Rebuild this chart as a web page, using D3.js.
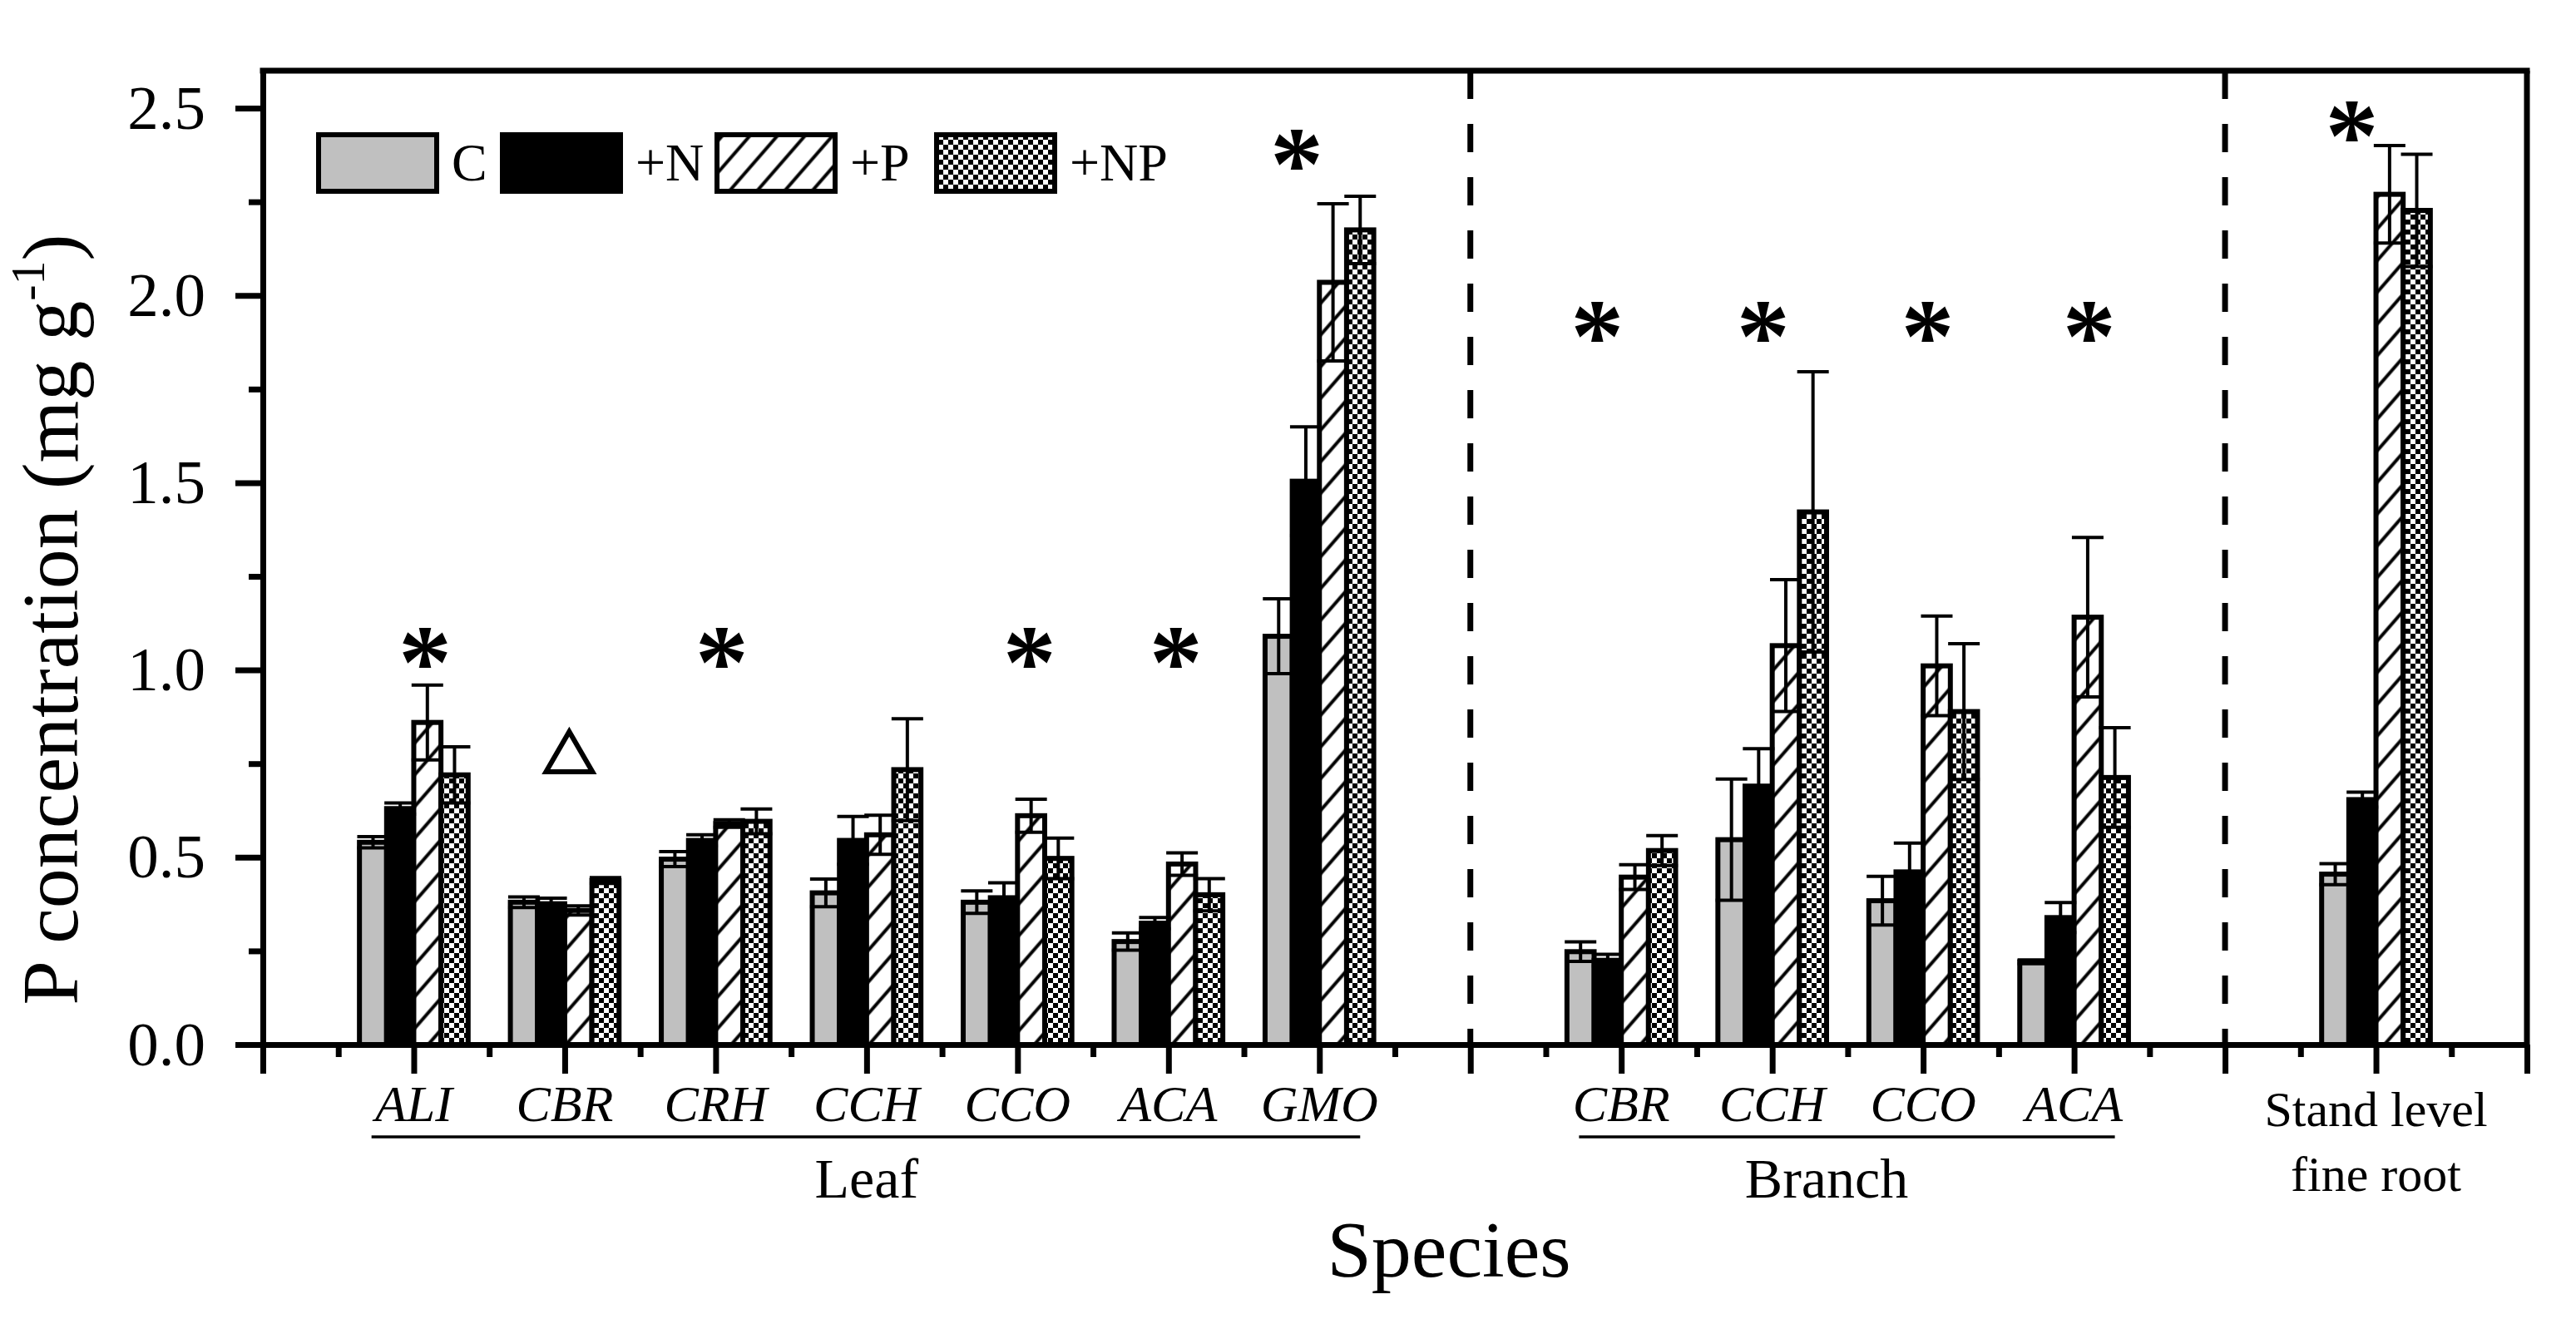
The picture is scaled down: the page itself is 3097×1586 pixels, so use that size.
<!DOCTYPE html>
<html>
<head>
<meta charset="utf-8">
<script src="https://cdn.jsdelivr.net/npm/d3@7"></script>
<style>
  body { margin: 0; background: #fff; }
  svg { display: block; font-family: 'Liberation Serif', 'Times New Roman', serif; }
</style>
</head>
<body>
<svg></svg>
<script>
// x axis runs 0..15, one unit per species slot
let species = ['ALI', 'CBR', 'CRH', 'CCH', 'CCO', 'ACA', 'GMO', 'CBR', 'CCH', 'CCO', 'ACA', 'Stand level|fine root']
let speciesPos = [1, 2, 3, 4, 5, 6, 7, 9, 10, 11, 12, 14]
let treatments = ['C', '+N', '+P', '+NP']

// mean and SE per treatment, same order as species
let meanC  = [0.54, 0.38, 0.495, 0.405, 0.38, 0.275, 1.09, 0.248, 0.547, 0.384, 0.221, 0.455]
let seC    = [0.015, 0.014, 0.02, 0.037, 0.03, 0.023, 0.10, 0.026, 0.162, 0.065, 0.005, 0.028]
let meanN  = [0.63, 0.376, 0.545, 0.545, 0.392, 0.324, 1.504, 0.225, 0.69, 0.461, 0.339, 0.654]
let seN    = [0.015, 0.015, 0.015, 0.064, 0.04, 0.015, 0.145, 0.016, 0.10, 0.077, 0.04, 0.02]
let meanP  = [0.86, 0.358, 0.59, 0.56, 0.611, 0.482, 2.035, 0.447, 1.065, 1.011, 1.141, 2.27]
let seP    = [0.10, 0.012, 0.01, 0.052, 0.044, 0.03, 0.21, 0.033, 0.176, 0.133, 0.213, 0.13]
let meanNP = [0.72, 0.438, 0.596, 0.734, 0.497, 0.40, 2.175, 0.518, 1.422, 0.889, 0.713, 2.227]
let seNP   = [0.075, 0.008, 0.033, 0.136, 0.054, 0.043, 0.09, 0.04, 0.374, 0.181, 0.133, 0.15]

// organ groups: first / last species index, label position (axis units)
let organs = ['Leaf', 'Branch']
let organFirst = [0, 7]
let organLast = [6, 10]
let organLabelAt = [4.0, 10.36]
let dividers = [8, 13]

// significance marks (axis units / y values)
let starX = [1.075, 3.04, 5.08, 6.05, 6.85, 8.84, 9.94, 11.03, 12.10, 13.84]
let starY = [1.06, 1.06, 1.06, 1.06, 2.39, 1.93, 1.93, 1.93, 1.93, 2.465]
let triX = [2.03]
let triY = [0.764]

let yTicks = [0, 0.5, 1.0, 1.5, 2.0, 2.5]
let yMinor = [0.25, 0.75, 1.25, 1.75, 2.25]

let width = 3097
let height = 1586
let padLeft = 316
let padRight = 3038
let padTop = 85
let padBottom = 1256
let barW = 0.18

let svg = d3.select('svg').attr('width', width).attr('height', height)

let xScale = d3.scaleLinear().domain([0, 15]).range([padLeft, padRight])
let yScale = d3.scaleLinear().domain([0, 2.6]).range([padBottom, padTop])

let series = [
  { name: 'C', mean: meanC, se: seC, fill: '#c0c0c0' },
  { name: '+N', mean: meanN, se: seN, fill: '#000' },
  { name: '+P', mean: meanP, se: seP, fill: 'url(#hatch)' },
  { name: '+NP', mean: meanNP, se: seNP, fill: 'url(#checker)' }
]

let makePatterns = () => {
  let defs = svg.append('defs')
  let hatch = defs.append('pattern')
    .attr('id', 'hatch')
    .attr('patternUnits', 'userSpaceOnUse')
    .attr('width', 25).attr('height', 20)
    .attr('patternTransform', 'rotate(41)')
  hatch.append('rect').attr('width', 25).attr('height', 20).attr('fill', '#fff')
  hatch.append('line')
    .attr('x1', 12.5).attr('x2', 12.5).attr('y1', 0).attr('y2', 20)
    .attr('stroke', '#000').attr('stroke-width', 4)

  let checker = defs.append('pattern')
    .attr('id', 'checker')
    .attr('patternUnits', 'userSpaceOnUse')
    .attr('width', 12).attr('height', 12)
  checker.append('rect').attr('width', 12).attr('height', 12).attr('fill', '#fff')
  checker.append('rect').attr('width', 6).attr('height', 6).attr('fill', '#000')
  checker.append('rect').attr('x', 6).attr('y', 6).attr('width', 6).attr('height', 6).attr('fill', '#000')
}

let drawBars = () => {
  series.forEach((s, k) => {
    svg.append('g')
      .selectAll('rect')
      .data(species)
      .enter()
      .append('rect')
      .attr('x', (d, i) => xScale(speciesPos[i] + (k - 2) * barW))
      .attr('width', xScale(barW) - xScale(0))
      .attr('y', (d, i) => yScale(s.mean[i]))
      .attr('height', (d, i) => yScale(0) - yScale(s.mean[i]))
      .attr('fill', s.fill)
      .attr('stroke', '#000')
      .attr('stroke-width', 6)
  })
}

let drawErrors = () => {
  let capW = 19
  series.forEach((s, k) => {
    let g = svg.append('g').attr('stroke', '#000').attr('stroke-width', 4)
    species.forEach((d, i) => {
      let cx = xScale(speciesPos[i] + (k - 1.5) * barW)
      let hi = yScale(s.mean[i] + s.se[i])
      let lo = yScale(s.mean[i] - s.se[i])
      g.append('line').attr('x1', cx).attr('x2', cx).attr('y1', hi).attr('y2', lo)
      g.append('line').attr('x1', cx - capW).attr('x2', cx + capW).attr('y1', hi).attr('y2', hi)
      g.append('line').attr('x1', cx - capW).attr('x2', cx + capW).attr('y1', lo).attr('y2', lo)
    })
  })
}

let drawAxes = () => {
  let yAxis = d3.axisLeft(yScale)
    .tickValues(yTicks)
    .tickSize(33)
    .tickPadding(36)
    .tickSizeOuter(0)
    .tickFormat(d3.format('.1f'))
  let yAxisMinor = d3.axisLeft(yScale).tickValues(yMinor).tickSize(17).tickSizeOuter(0).tickFormat('')

  let xAxis = d3.axisBottom(xScale).tickValues(d3.range(0, 16)).tickSize(35).tickSizeOuter(0).tickFormat('')
  let xAxisMinor = d3.axisBottom(xScale).tickValues(d3.range(0.5, 15, 1)).tickSize(15).tickSizeOuter(0).tickFormat('')

  svg.append('g').attr('transform', 'translate(' + padLeft + ',0)').call(yAxisMinor)
  svg.append('g').attr('transform', 'translate(0,' + padBottom + ')').call(xAxisMinor)
  svg.append('g').attr('transform', 'translate(0,' + padBottom + ')').call(xAxis)
  svg.append('g').attr('class', 'ylab').attr('transform', 'translate(' + padLeft + ',0)').call(yAxis)

  svg.selectAll('.domain').attr('stroke-width', 7)
  svg.selectAll('.tick line').attr('stroke-width', 7)
  svg.selectAll('.ylab text')
    .attr('font-family', "'Liberation Serif', 'Times New Roman', serif")
    .attr('font-size', 75)
    .attr('fill', '#000')

  // frame: top and right
  svg.append('line')
    .attr('x1', xScale(0) - 3.5).attr('x2', xScale(15) + 3.5)
    .attr('y1', yScale(2.6)).attr('y2', yScale(2.6))
    .attr('stroke', '#000').attr('stroke-width', 7)
  svg.append('line')
    .attr('x1', xScale(15)).attr('x2', xScale(15))
    .attr('y1', yScale(2.6)).attr('y2', yScale(0))
    .attr('stroke', '#000').attr('stroke-width', 7)

  svg.append('g')
    .selectAll('line')
    .data(dividers)
    .enter()
    .append('line')
    .attr('x1', d => xScale(d)).attr('x2', d => xScale(d))
    .attr('y1', yScale(2.6)).attr('y2', yScale(0))
    .attr('stroke', '#000').attr('stroke-width', 7)
    .attr('stroke-dasharray', '34 30')
}

let drawLabels = () => {
  species.forEach((name, i) => {
    let parts = name.split('|')
    let t = svg.append('text')
      .attr('text-anchor', 'middle')
      .attr('font-size', 62)
      .attr('x', xScale(speciesPos[i]))
      .attr('y', 1348)
    if (parts.length === 1) {
      t.attr('font-style', 'italic').text(name)
    } else {
      t.attr('font-size', 60).attr('y', 1354)
      parts.forEach((p, j) => {
        t.append('tspan').attr('x', xScale(speciesPos[i])).attr('dy', j === 0 ? 0 : 78).text(p)
      })
    }
  })

  organs.forEach((name, k) => {
    svg.append('line')
      .attr('x1', xScale(speciesPos[organFirst[k]] - 0.28))
      .attr('x2', xScale(speciesPos[organLast[k]] + 0.27))
      .attr('y1', 1367).attr('y2', 1367)
      .attr('stroke', '#000').attr('stroke-width', 3.5)
    svg.append('text')
      .attr('text-anchor', 'middle')
      .attr('font-size', 68)
      .attr('x', xScale(organLabelAt[k]))
      .attr('y', 1440)
      .text(name)
  })

  svg.append('text')
    .attr('text-anchor', 'middle')
    .attr('font-size', 96)
    .attr('x', 1742)
    .attr('y', 1535)
    .text('Species')

  let yt = svg.append('text')
    .attr('text-anchor', 'middle')
    .attr('font-size', 96)
    .attr('transform', 'translate(93,745) rotate(-90)')
  yt.append('tspan').text('P concentration (mg g')
  yt.append('tspan').attr('font-size', 58).attr('dy', -40).text('-1')
  yt.append('tspan').attr('dy', 40).text(')')
}

let drawMarks = () => {
  let fs = 128
  svg.append('g')
    .selectAll('text')
    .data(starX)
    .enter()
    .append('text')
    .attr('text-anchor', 'middle')
    .attr('font-size', fs)
    .attr('font-weight', 'bold')
    .attr('x', d => xScale(d))
    .attr('y', (d, i) => yScale(starY[i]) + 0.47 * fs)
    .text('*')

  svg.append('g')
    .selectAll('path')
    .data(triX)
    .enter()
    .append('path')
    .attr('d', d3.symbol(d3.symbolTriangle, 1350))
    .attr('transform', (d, i) => 'translate(' + xScale(d) + ',' + yScale(triY[i]) + ')')
    .attr('fill', 'none')
    .attr('stroke', '#000')
    .attr('stroke-width', 6)
}

let drawLegend = () => {
  let legendX = [383, 604, 862, 1126]
  let g = svg.append('g')
  series.forEach((s, k) => {
    g.append('rect')
      .attr('x', legendX[k]).attr('y', 162)
      .attr('width', 142).attr('height', 68)
      .attr('fill', s.fill)
      .attr('stroke', '#000').attr('stroke-width', 6)
    g.append('text')
      .attr('x', legendX[k] + 160)
      .attr('y', 217)
      .attr('font-size', 64)
      .text(s.name)
  })
}

makePatterns()
drawBars()
drawErrors()
drawAxes()
drawLabels()
drawMarks()
drawLegend()
</script>
</body>
</html>
